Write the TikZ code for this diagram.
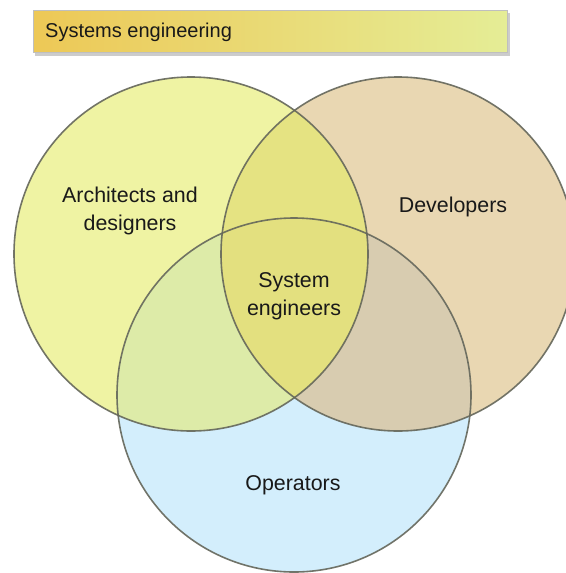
\documentclass[tikz,border=0pt]{standalone}
\usepackage{fontspec}
\setmainfont{Liberation Sans}
\usepackage{tikz}
\usetikzlibrary{positioning}

\definecolor{archcol}{RGB}{239,243,163}
\definecolor{devcol}{RGB}{233,215,178}
\definecolor{opcol}{RGB}{211,238,252}
\definecolor{archdev}{RGB}{229,227,130}
\definecolor{archop}{RGB}{221,235,168}
\definecolor{devop}{RGB}{216,204,176}
\definecolor{allcol}{RGB}{227,224,127}
\definecolor{edgecol}{RGB}{100,102,90}
\definecolor{barleft}{RGB}{237,200,86}
\definecolor{barright}{RGB}{229,237,150}
\tikzset{lbl/.style={font=\fontsize{21.4}{28}\selectfont, text=black!90, align=center, inner sep=0pt}}

\begin{document}
\begin{tikzpicture}[x=1pt, y=-1pt]
	\useasboundingbox (0,0) rectangle (565,573);
	\def\rad{177pt}
	
	% header bar
	\fill[black, opacity=.2] (35,13) rectangle (510,56);
	\shade[left color=barleft, right color=barright, draw=black!25] (33,10) rectangle (507,52);
	\node[lbl, font=\fontsize{20}{24}\selectfont, anchor=west] (title) at (45,32) {Systems engineering};
	
	\coordinate (archc) at (191,254);
	\coordinate (devc) at (398,254);
	\coordinate (opc) at (294,395);
	
	\fill[archcol] (archc) circle (\rad);
	\fill[devcol] (devc) circle (\rad);
	\fill[opcol] (opc) circle (\rad);
	\begin{scope}
		\clip (devc) circle (\rad);
		\fill[devop] (opc) circle (\rad);
	\end{scope}
	\begin{scope}
		\clip (archc) circle (\rad);
		\fill[archdev] (devc) circle (\rad);
		\fill[archop] (opc) circle (\rad);
		\clip (devc) circle (\rad);
		\fill[allcol] (opc) circle (\rad);
	\end{scope}
	
	\draw[edgecol, line width=1.6pt, opacity=.9] (archc) circle (\rad);
	\draw[edgecol, line width=1.6pt, opacity=.9] (devc) circle (\rad);
	\draw[edgecol, line width=1.6pt, opacity=.9] (opc) circle (\rad);
	
	\node[lbl] (arch) at (130,211) {Architects and\\designers};
	\node[lbl] (dev) at (453,207) {Developers};
	\node[lbl] (syseng) at (294,296) {System\\engineers};
	\node[lbl] (ops) at (293,485) {Operators};
\end{tikzpicture}
\end{document}
